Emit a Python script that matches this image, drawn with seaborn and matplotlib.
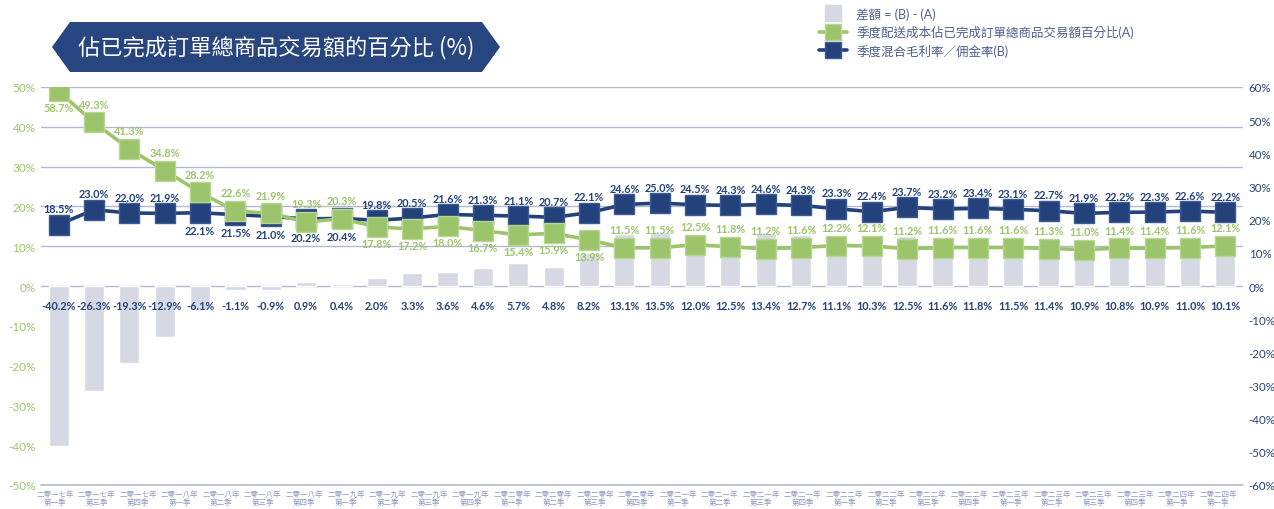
import numpy as np
import matplotlib.pyplot as plt
import seaborn as sns
from matplotlib.patches import Polygon
from matplotlib.lines import Line2D

sns.set_style('white')
plt.rcParams['font.family'] = ['Lato', 'Noto Sans CJK TC', 'DejaVu Sans']

NAVY = '#23427c'
GREEN = '#9cc46b'
BAR = '#d6d9e3'
GRID = '#b3bad0'
TICK = '#8d9bc2'

# chart data (percent)
take_rate = [18.5, 23.0, 22.0, 21.9, 22.1, 21.5, 21.0, 20.2, 20.4, 19.8, 20.5, 21.6,
             21.3, 21.1, 20.7, 22.1, 24.6, 25.0, 24.5, 24.3, 24.6, 24.3, 23.3, 22.4,
             23.7, 23.2, 23.4, 23.1, 22.7, 21.9, 22.2, 22.3, 22.6, 22.2]
ship_cost = [58.7, 49.3, 41.3, 34.8, 28.2, 22.6, 21.9, 19.3, 20.3, 17.8, 17.2, 18.0,
             16.7, 15.4, 15.9, 13.9, 11.5, 11.5, 12.5, 11.8, 11.2, 11.6, 12.2, 12.1,
             11.2, 11.6, 11.6, 11.6, 11.3, 11.0, 11.4, 11.4, 11.6, 12.1]
diff = [-40.2, -26.3, -19.3, -12.9, -6.1, -1.1, -0.9, 0.9, 0.4, 2.0, 3.3, 3.6,
        4.6, 5.7, 4.8, 8.2, 13.1, 13.5, 12.0, 12.5, 13.4, 12.7, 11.1, 10.3,
        12.5, 11.6, 11.8, 11.5, 11.4, 10.9, 10.8, 10.9, 11.0, 10.1]

quarters = [
    '二零一七年\n第一季', '二零一七年\n第三季', '二零一七年\n第四季',
    '二零一八年\n第一季', '二零一八年\n第二季', '二零一八年\n第三季', '二零一八年\n第四季',
    '二零一九年\n第一季', '二零一九年\n第二季', '二零一九年\n第三季', '二零一九年\n第四季',
    '二零二零年\n第一季', '二零二零年\n第二季', '二零二零年\n第三季', '二零二零年\n第四季',
    '二零二一年\n第一季', '二零二一年\n第二季', '二零二一年\n第三季', '二零二一年\n第四季',
    '二零二二年\n第一季', '二零二二年\n第二季', '二零二二年\n第三季', '二零二二年\n第四季',
    '二零二三年\n第一季', '二零二三年\n第二季', '二零二三年\n第三季', '二零二三年\n第四季',
    '二零二四年\n第一季', '二零二四年\n第一季',
]

# label above (True) or below (False) the marker
take_up = [True] * 4 + [False] * 5 + [True] * 25
ship_up = [False] + [True] * 8 + [False] * 7 + [True] * 18

idx = np.arange(len(diff))

fig = plt.figure(figsize=(12.74, 5.10), dpi=100)
ax = fig.add_axes([41 / 1274, 24 / 510, 1202 / 1274, 398 / 510])
ax2 = ax.twinx()

for g in range(0, 51, 10):
    ax.axhline(g, color=GRID, lw=1, zorder=0)
ax.axhline(-50, color=GRID, lw=1.2, zorder=0, clip_on=False)

sns.barplot(x=idx, y=diff, color=BAR, saturation=1, width=0.57, ax=ax, zorder=2)

sns.lineplot(x=idx, y=take_rate, ax=ax2, color=NAVY, lw=2.6, marker='s', markersize=14,
             markeredgecolor='#3d5a92', markeredgewidth=1)
sns.lineplot(x=idx, y=ship_cost, ax=ax2, color=GREEN, lw=2.6, marker='s', markersize=14,
             markeredgecolor='#b8d693', markeredgewidth=1)

lab_kw = dict(textcoords='offset points', ha='center', va='center',
              fontsize=7.8, fontweight='bold')
for i, v in enumerate(take_rate):
    ax2.annotate(f'{v:.1f}%', (i, v), xytext=(0, 11.5 if take_up[i] else -13),
                 color=NAVY, **lab_kw)
for i, v in enumerate(ship_cost):
    ax2.annotate(f'{v:.1f}%', (i, v), xytext=(0, 13 if ship_up[i] else -12),
                 color=GREEN, **lab_kw)
for i, v in enumerate(diff):
    ax.annotate(f'{v:.1f}%', (i, 0), xytext=(0, -14), color=NAVY, zorder=5, **lab_kw)

ax.set_ylim(-50, 50)
ax.set_yticks(range(-50, 51, 10), [f'{t}%' for t in range(-50, 51, 10)])
ax.tick_params(axis='y', length=0, pad=4, labelsize=8.5, labelcolor=GREEN)
ax2.set_ylim(-60, 60)
ax2.set_yticks(range(-60, 61, 10), [f'{t}%' for t in range(-60, 61, 10)])
ax2.tick_params(axis='y', length=0, pad=4, labelsize=8.3, labelcolor=NAVY)
ax2.set_ylabel('')
ax.set_ylabel('')

ax.set_xticks(np.linspace(-0.1, 32.8, len(quarters)), quarters)
ax.tick_params(axis='x', length=0, pad=3, labelsize=5.4, labelcolor=TICK)
for lab in ax.get_xticklabels():
    lab.set_linespacing(1.1)
ax.set_xlim(-0.5, len(diff) - 0.5)

for a in (ax, ax2):
    for s in a.spines.values():
        s.set_visible(False)

handles = [
    Line2D([], [], ls='none', marker='s', markersize=12, color=BAR),
    Line2D([], [], color=GREEN, lw=2.6, marker='s', markersize=11, markeredgecolor='#b8d693'),
    Line2D([], [], color=NAVY, lw=2.6, marker='s', markersize=11, markeredgecolor='#3d5a92'),
]
labels = ['差額 = (B) - (A)', '季度配送成本佔已完成訂單總商品交易額百分比(A)', '季度混合毛利率／佣金率(B)']
fig.legend(handles, labels, loc='upper left', bbox_to_anchor=(814 / 1274, 1 - 3 / 510),
           frameon=False, fontsize=9, labelcolor='#4d6090', handlelength=2.2,
           labelspacing=0.45, handletextpad=0.8, borderaxespad=0)

pts = [(52, 48), (70, 23), (482, 23), (500, 48), (482, 73), (70, 73)]
fig.add_artist(Polygon([(x / 1274, 1 - y / 510) for x, y in pts], closed=True,
                       transform=fig.transFigure, facecolor='#27467f', edgecolor='none'))
fig.text(276 / 1274, 1 - 48 / 510, '佔已完成訂單總商品交易額的百分比 (%)', ha='center', va='center',
         color='white', fontsize=16, family=['Noto Sans CJK TC', 'DejaVu Sans'])

fig.savefig('out.png', dpi=100)
